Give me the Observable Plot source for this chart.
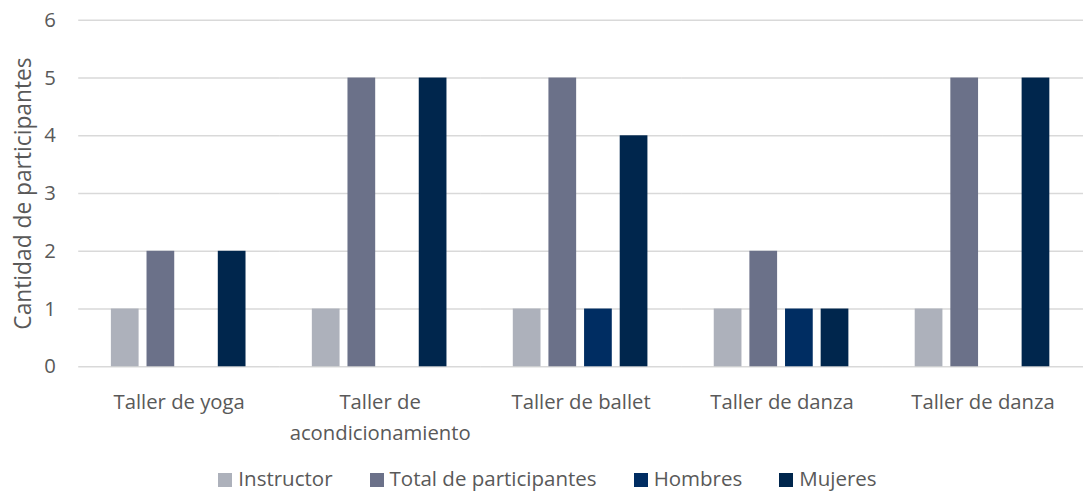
<!DOCTYPE html>
<html><head><meta charset="utf-8">
<script src="https://cdn.jsdelivr.net/npm/d3@7"></script>
<script src="https://cdn.jsdelivr.net/npm/@observablehq/plot@0.6"></script>
<style>
html,body{margin:0;padding:0;background:#fff;overflow:hidden;width:1083px;height:495px;}
#chart svg{display:block;}
.legend{display:flex;justify-content:center;gap:37px;margin-top:22px;margin-left:12px;font-family:"Open Sans",Lato,sans-serif;font-size:20.5px;color:#595959;line-height:22px;}
.legend span.sw{display:inline-block;width:14px;height:14px;margin-right:6px;vertical-align:-1px;}
</style></head>
<body>
<div id="chart"></div>
<script>
const categories = ["Taller de yoga", "Taller de\nacondicionamiento", "Taller de ballet", "Taller de danza", "Taller de danza"];
const series = ["Instructor", "Total de participantes", "Hombres", "Mujeres"];
const colors = ["#adb1bb", "#6b7189", "#002d62", "#00264d"];
const instructor = [1, 1, 1, 1, 1];
const total = [2, 5, 5, 2, 5];
const hombres = [0, 0, 1, 1, 0];
const mujeres = [2, 5, 4, 1, 5];
const yTicks = [0, 1, 2, 3, 4, 5, 6];

const valuesBySeries = [instructor, total, hombres, mujeres];
const data = [];
categories.forEach((c, i) => {
  series.forEach((s, j) => {
    data.push({group: i, series: s, value: valuesBySeries[j][i]});
  });
});

const font = "'Open Sans', Lato, sans-serif";
const chart = Plot.plot({
  width: 1094,
  height: 450,
  marginLeft: 79,
  marginRight: 0,
  marginTop: 20,
  marginBottom: 80,
  style: {fontFamily: font, fontSize: "20.5px", color: "#595959", background: "#fff"},
  fx: {domain: d3.range(categories.length), padding: 0, label: null, axis: null},
  x: {domain: series, paddingInner: 0.21, paddingOuter: 0.87, axis: null},
  y: {domain: [0, 6], ticks: yTicks, label: null, axis: null},
  color: {domain: series, range: colors},
  marks: [
    Plot.gridY(yTicks, {stroke: "#d9d9d9", strokeOpacity: 1, strokeWidth: 1.5}),
    Plot.axisY(yTicks, {tickSize: 0, tickPadding: 23, fontSize: 20.5, fill: "#595959", tickFormat: d3.format("d"), label: null}),
    Plot.axisFx({anchor: "bottom", tickSize: 0, tickPadding: 20, fontSize: 20.5, fill: "#595959", lineHeight: 1.55, label: null, tickFormat: i => categories[i]}),
    Plot.barY(data.filter(d => d.value > 0), {fx: "group", x: "series", y: "value", fill: "series"}),
    Plot.text(["Cantidad de participantes"], {frameAnchor: "left", textAnchor: "middle", dx: -56, rotate: -90, fontSize: 23, fill: "#595959", facet: "super"})
  ]
});
document.getElementById("chart").appendChild(chart);

const legend = document.createElement("div");
legend.className = "legend";
series.forEach((s, j) => {
  const item = document.createElement("div");
  const sw = document.createElement("span");
  sw.className = "sw";
  sw.style.background = colors[j];
  item.appendChild(sw);
  item.appendChild(document.createTextNode(s));
  legend.appendChild(item);
});
document.body.appendChild(legend);
</script>
</body></html>
